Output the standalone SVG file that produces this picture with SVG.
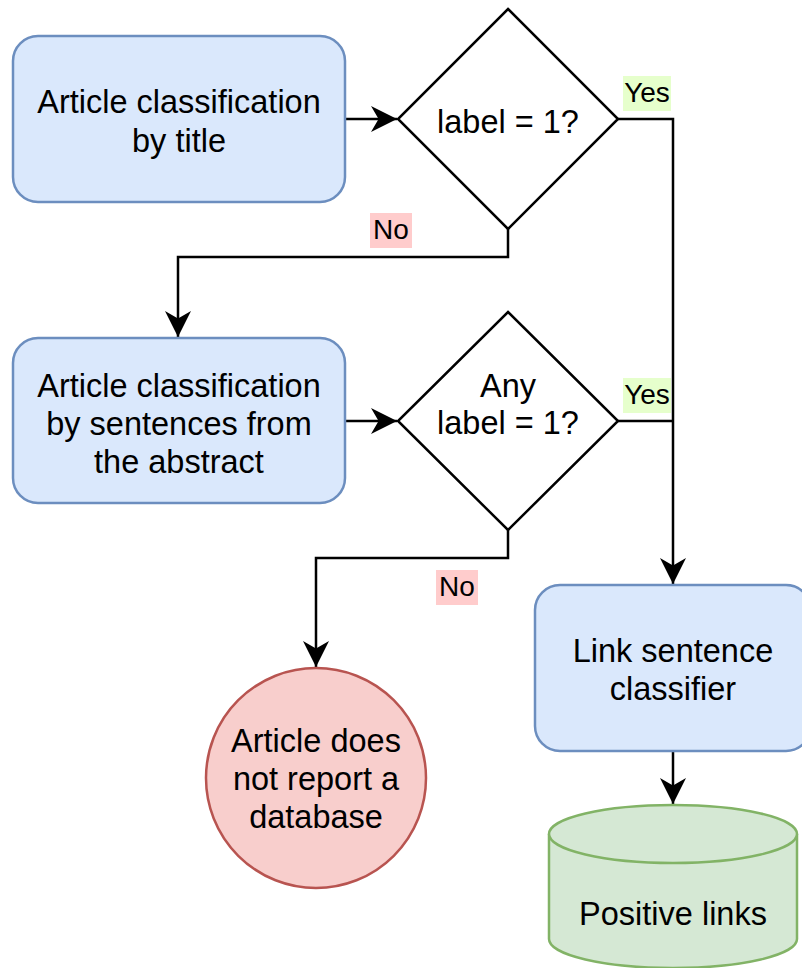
<svg xmlns="http://www.w3.org/2000/svg" width="802" height="968" viewBox="0 0 802 968">
<defs>
<style>
.t{font-family:"Liberation Sans",Arial,Helvetica,sans-serif;font-size:32.5px;fill:#000;text-anchor:middle}
.lb{font-family:"Liberation Sans",Arial,Helvetica,sans-serif;font-size:28px;fill:#000;text-anchor:middle}
.blue{fill:#dae8fc;stroke:#6c8ebf;stroke-width:2.5}
.red{fill:#f8cecc;stroke:#b85450;stroke-width:2.5}
.green{fill:#d5e8d4;stroke:#82b366;stroke-width:2.5}
.dia{fill:#fff;stroke:#000;stroke-width:2.5}
.edge{fill:none;stroke:#000;stroke-width:2.5}
</style>
<marker id="arr" markerUnits="userSpaceOnUse" markerWidth="26" markerHeight="26" viewBox="0 0 24 24" refX="24" refY="12" orient="auto">
<path d="M0,0 L24,12 L0,24 L7,12 Z" fill="#000"/>
</marker>
</defs>
<g id="connectors">
<path class="edge" d="M345,119 H397" marker-end="url(#arr)"/>
<path class="edge" d="M618,119 H673 V584" marker-end="url(#arr)"/>
<path class="edge" d="M508,229 V257 H178 V337" marker-end="url(#arr)"/>
<path class="edge" d="M345,421 H397" marker-end="url(#arr)"/>
<path class="edge" d="M618,421 H673"/>
<path class="edge" d="M508,530 V558 H316 V667" marker-end="url(#arr)"/>
<path class="edge" d="M673,751 V804" marker-end="url(#arr)"/>
<g id="label-yes1"><rect x="623" y="76" width="48" height="35" fill="#e6ffcc"/><text class="lb" x="647" y="102">Yes</text></g>
<g id="label-no1"><rect x="370" y="213" width="42" height="35" fill="#ffcccc"/><text class="lb" x="391" y="239">No</text></g>
<g id="label-yes2"><rect x="623" y="378" width="48" height="35" fill="#e6ffcc"/><text class="lb" x="647" y="404">Yes</text></g>
<g id="label-no2"><rect x="436" y="570" width="42" height="35" fill="#ffcccc"/><text class="lb" x="457" y="596">No</text></g>
</g>
<g id="title-classification">
<rect class="blue" x="13" y="36" width="332" height="166" rx="25"/>
<text class="t" x="179" y="113">Article classification</text>
<text class="t" x="179" y="152">by title</text>
</g>
<g id="decision-1">
<polygon class="dia" points="508,9 618,119 508,229 398,119"/>
<text class="t" x="508" y="133">label = 1?</text>
</g>
<g id="abstract-classification">
<rect class="blue" x="13" y="338" width="332" height="165" rx="25"/>
<text class="t" x="179" y="397">Article classification</text>
<text class="t" x="179" y="435">by sentences from</text>
<text class="t" x="179" y="473">the abstract</text>
</g>
<g id="decision-2">
<polygon class="dia" points="508,312 618,421 508,530 398,421"/>
<text class="t" x="508" y="397">Any</text>
<text class="t" x="508" y="434">label = 1?</text>
</g>
<g id="no-database">
<circle class="red" cx="316" cy="778" r="110"/>
<text class="t" x="316" y="752">Article does</text>
<text class="t" x="316" y="790">not report a</text>
<text class="t" x="316" y="828">database</text>
</g>
<g id="link-classifier">
<rect class="blue" x="535" y="585" width="276" height="166" rx="25"/>
<text class="t" x="673" y="662">Link sentence</text>
<text class="t" x="673" y="700">classifier</text>
</g>
<g id="positive-links">
<path class="green" d="M549,834 A124,29 0 0 1 797,834 V939 A124,29 0 0 1 549,939 Z"/>
<path class="green" fill="none" d="M549,834 A124,29 0 0 0 797,834"/>
<text class="t" x="673" y="925">Positive links</text>
</g>
</svg>
